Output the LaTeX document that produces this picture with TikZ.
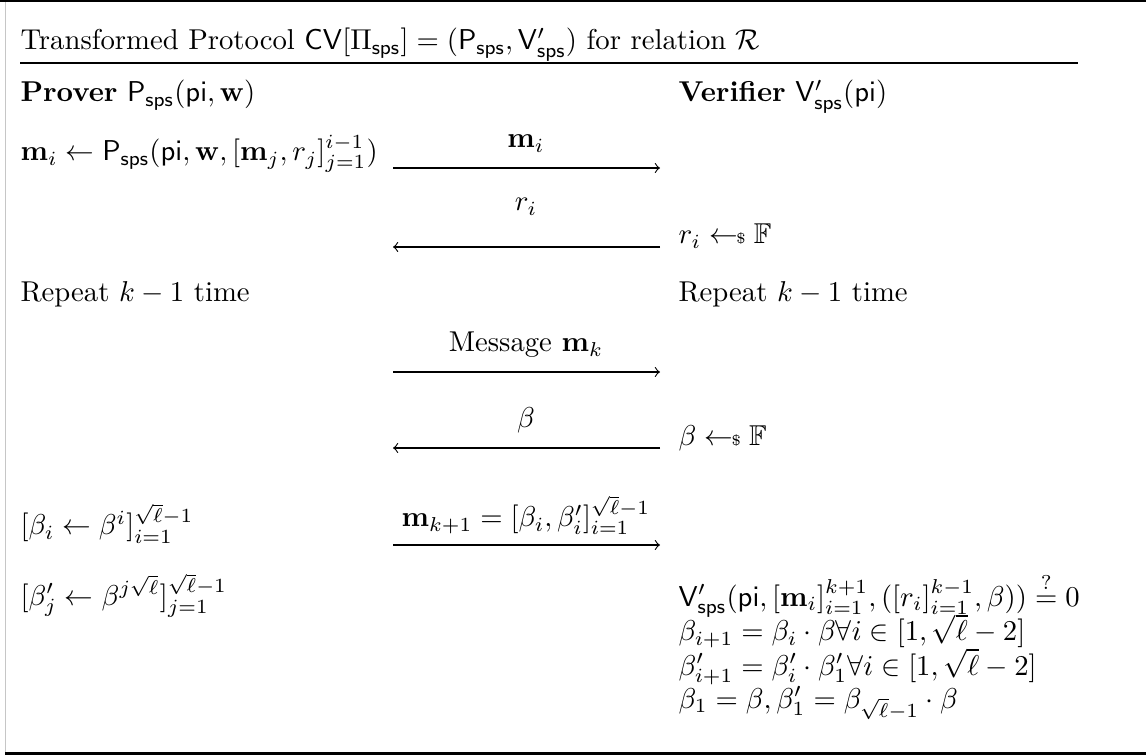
\documentclass[tikz,border=0pt]{standalone}
\usepackage{amsmath,amssymb}
\newcommand{\smpl}{\mathrel{\gets\!\!\mbox{\tiny\$}}}
\newcommand{\Psps}{\mathsf{P}_{\mathsf{sps}}}
\newcommand{\Vsps}{\mathsf{V}'_{\mathsf{sps}}}
\newcommand{\sqrtl}{\sqrt{\ell}}
\begin{document}
\begin{tikzpicture}[x=0.3484pt,y=-0.3484pt,
  txt/.style={inner sep=0pt, anchor=base west},
  lbl/.style={inner sep=0pt, anchor=base},
  msg/.style={->, line width=0.4pt},
  frame/.style={line width=0.7pt}]
\useasboundingbox (0,0) rectangle (1146,755);
% frame
\draw[gray!45, line width=0.4pt] (5.5,0) -- (5.5,752);
\draw[frame] (0,1) -- (1146,1);
\draw[frame] (5,753.5) -- (1146,753.5);
% title
\node[txt] (title) at (20,50) {Transformed Protocol $\mathsf{CV}[\Pi_{\mathsf{sps}}] = (\Psps, \Vsps)$ for relation $\mathcal{R}$};
\draw[line width=0.5pt] (20,63) -- (1078,63);
% headers
\node[txt] (prov) at (20,102) {\textbf{Prover} $\Psps(\mathsf{pi}, \mathbf{w})$};
\node[txt] (ver) at (678,102) {\textbf{Verifier} $\Vsps(\mathsf{pi})$};
% row 1
\node[txt] (p1) at (20,161) {$\mathbf{m}_i \gets \Psps(\mathsf{pi}, \mathbf{w}, [\mathbf{m}_j, r_j]_{j=1}^{i-1})$};
\coordinate (a1l) at (393,168);
\coordinate (a1r) at (660,168);
\draw[msg] (a1l) -- (a1r);
\node[lbl] (l1) at (526,148) {$\mathbf{m}_i$};
% row 2
\coordinate (a2l) at (393,247);
\coordinate (a2r) at (660,247);
\draw[msg] (a2r) -- (a2l);
\node[lbl] (l2) at (526,211) {$r_i$};
\node[txt] (v2) at (678,244) {$r_i \smpl \mathbb{F}$};
% repeat
\node[txt] (prep) at (20,302) {Repeat $k-1$ time};
\node[txt] (vrep) at (678,302) {Repeat $k-1$ time};
% message k
\coordinate (a3l) at (393,372);
\coordinate (a3r) at (660,372);
\draw[msg] (a3l) -- (a3r);
\node[lbl] (l3) at (526,352) {Message $\mathbf{m}_k$};
% beta
\coordinate (a4l) at (393,448);
\coordinate (a4r) at (660,448);
\draw[msg] (a4r) -- (a4l);
\node[lbl] (l4) at (526,427) {$\beta$};
\node[txt] (v4) at (678,445) {$\beta \smpl \mathbb{F}$};
% m_{k+1}
\node[txt] (p5) at (20,535) {$[\beta_i \gets \beta^i]_{i=1}^{\sqrtl-1}$};
\coordinate (a5l) at (393,545);
\coordinate (a5r) at (660,545);
\draw[msg] (a5l) -- (a5r);
\node[lbl] (l5) at (526,527) {$\mathbf{m}_{k+1} = [\beta_i, \beta'_i]_{i=1}^{\sqrtl-1}$};
% final
\node[txt] (p6) at (20,605) {$[\beta'_j \gets \beta^{j\sqrtl}]_{j=1}^{\sqrtl-1}$};
\node[txt] (v6) at (678,606) {$\Vsps(\mathsf{pi}, [\mathbf{m}_i]_{i=1}^{k+1}, ([r_i]_{i=1}^{k-1}, \beta)) \stackrel{?}{=} 0$};
\node[txt] (v7) at (678,641) {$\beta_{i+1} = \beta_i \cdot \beta \forall i \in [1, \sqrtl - 2]$};
\node[txt] (v8) at (678,675) {$\beta'_{i+1} = \beta'_i \cdot \beta'_1 \forall i \in [1, \sqrtl - 2]$};
\node[txt] (v9) at (678,708) {$\beta_1 = \beta, \beta'_1 = \beta_{\sqrtl-1} \cdot \beta$};
\end{tikzpicture}
\end{document}
